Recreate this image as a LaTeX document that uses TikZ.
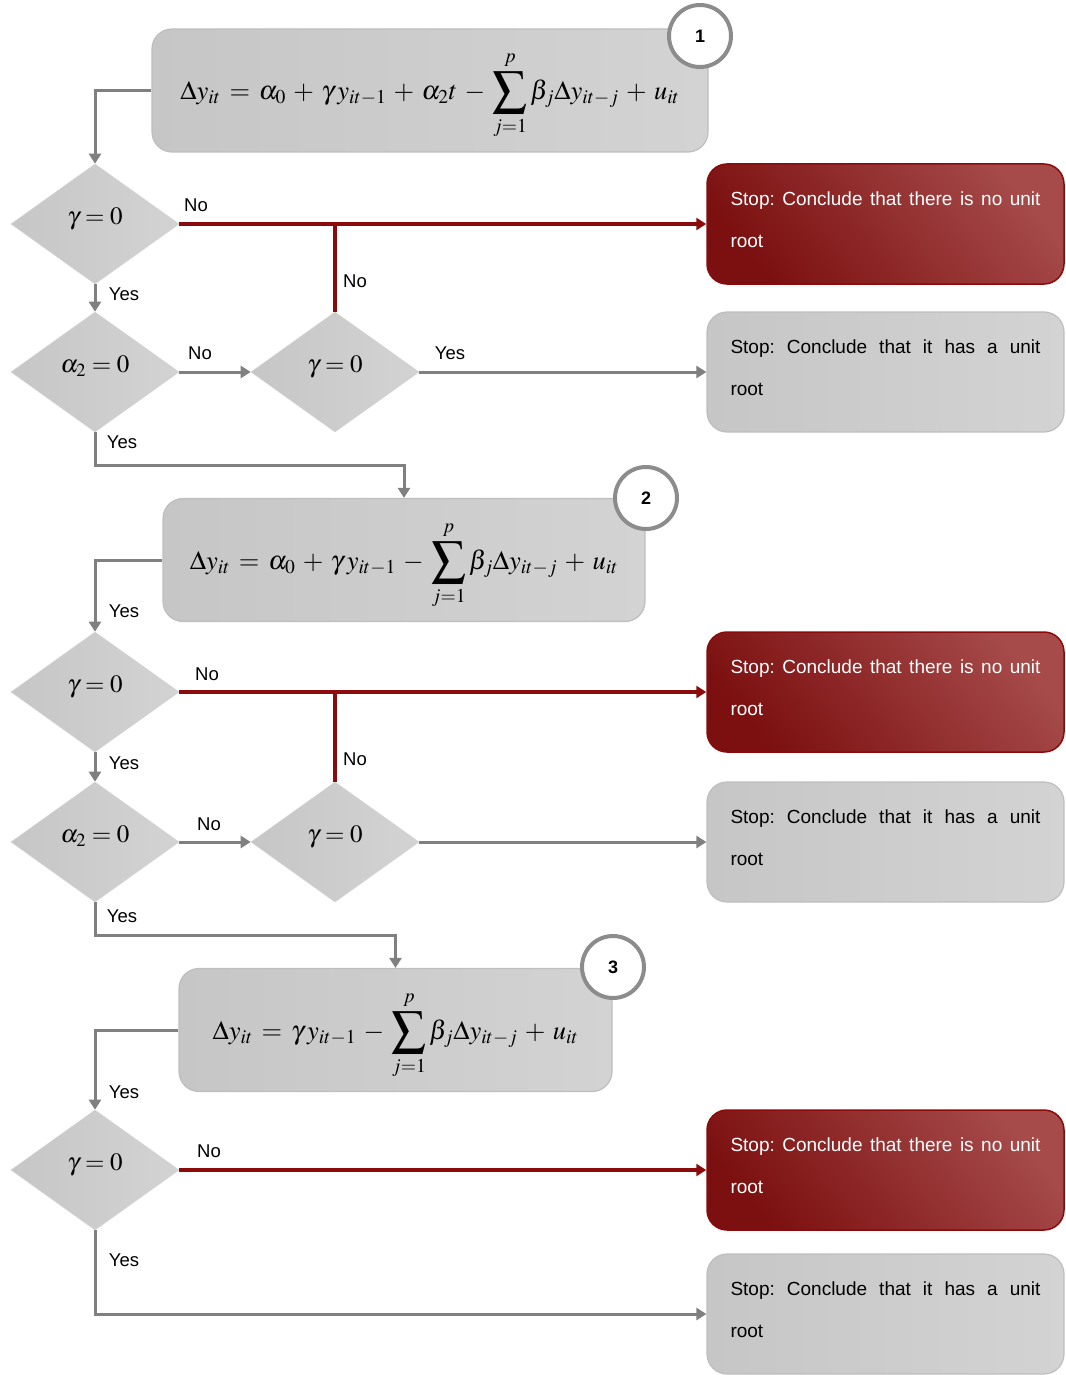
\documentclass[tikz,border=0pt]{standalone}
\usepackage{mathptmx}
\usepackage{graphicx}
\usepackage[no-math]{fontspec}
\setmainfont{Liberation Sans}
\usetikzlibrary{shapes.geometric,arrows.meta,calc}
\definecolor{linegray}{HTML}{808080}
\definecolor{myred}{HTML}{8B0A0A}
\definecolor{redA}{HTML}{7C1010}
\definecolor{redB}{HTML}{A64A4A}
\definecolor{grayA}{HTML}{C6C6C6}
\definecolor{grayB}{HTML}{D3D3D3}
\definecolor{boxedge}{HTML}{BEBEBE}
\definecolor{circedge}{HTML}{8C8C8C}
\newcommand\bsum{\mathop{\vcenter{\hbox{\scalebox{1.85}{$\sum$}}}}\limits_{\raisebox{-3pt}{$\scriptstyle j=1$}}^{\raisebox{4pt}{$\scriptstyle p$}}}
\newcommand\eqsp{\medmuskip=5mu\relax\thickmuskip=6mu\relax}
\newcommand\jline[1]{\makebox[310pt][s]{\spaceskip=0.278em plus 1fil\relax\xspaceskip=0.278em plus 1fil\relax #1}}
\newcommand\lastl[1]{#1\rule[-8pt]{0pt}{1pt}}
\newcommand\dtext[1]{$#1$\rule[-15pt]{0pt}{1pt}}
\begin{document}
\begin{tikzpicture}[x=1pt,y=-1pt,
  eqbox/.style={rectangle, rounded corners=20pt, draw=boxedge, line width=1.2pt,
    left color=grayA, right color=grayB, minimum height=123pt},
  eqtext/.style={inner sep=0pt, font=\fontsize{26.5}{32}\selectfont},
  dia/.style={diamond, minimum width=168pt, minimum height=120pt, inner sep=0pt,
    draw=grayB, line width=0.6pt, left color=grayA, right color=grayB,
    font=\fontsize{25}{30}\selectfont},
  redbox/.style={rectangle, rounded corners=20pt, draw=myred, line width=1.5pt,
    top color=redB, bottom color=redA, shading angle=-50, minimum width=357pt, minimum height=120pt,
    text width=310pt, align=left, text=white, font=\fontsize{19}{42}\selectfont},
  graybox/.style={rectangle, rounded corners=20pt, draw=boxedge, line width=1.2pt,
    left color=grayA, right color=grayB, minimum width=357pt, minimum height=120pt,
    text width=310pt, align=left, text=black, font=\fontsize{19}{42}\selectfont},
  numcirc/.style={circle, draw=circedge, line width=4pt, fill=white,
    minimum size=62pt, inner sep=0pt, font=\fontsize{18}{20}\selectfont\bfseries},
  lbl/.style={inner sep=0pt, font=\fontsize{18.5}{20}\selectfont},
  garr/.style={draw=linegray, line width=3pt, -{Triangle[length=10pt,width=12pt]}},
  gline/.style={draw=linegray, line width=3pt},
  rarr/.style={draw=myred, line width=4pt, -{Triangle[length=10pt,width=12pt]}},
  rline/.style={draw=myred, line width=4pt}
]
\useasboundingbox (0,0) rectangle (1065,1375);
\clip (0,0) rectangle (1065,1375);

% ---------- stage 1 ----------
\node[eqbox, minimum width=556pt] (b1) at (430,90.5) {};
\node[eqtext] (f1) at ([yshift=-5pt]b1.center)
  {$\eqsp\displaystyle \Delta y_{it} = \alpha_0 + \gamma\, y_{it-1} + \alpha_2 t - \bsum \beta_j \Delta y_{it-j} + u_{it}$};
\node[numcirc] (c1) at (700,36) {1};

\node[dia] (d1) at (95,224) {\dtext{\gamma = 0}};
\node[dia] (d2) at (95,372) {\dtext{\alpha_2 = 0}};
\node[dia] (d3) at (335,372) {\dtext{\gamma = 0}};

\node[redbox] (r1) at (885.5,224) {\jline{Stop: Conclude that there is no unit}\\\lastl{root}};
\node[graybox] (g1) at (885.5,372) {\jline{Stop: Conclude that it has a unit}\\\lastl{root}};

\draw[garr] (b1.west) -| (d1.north);
\draw[rarr] (d1.east) -- (r1.west);
\draw[rline] (d3.north) -- (d3.north |- d1.east);
\draw[garr] (d1.south) -- (d2.north);
\draw[garr] (d2.east) -- (d3.west);
\draw[garr] (d3.east) -- (g1.west);

\node[lbl] (l1) at (196,205) {No};
\node[lbl] (l2) at (355,281) {No};
\node[lbl] (l3) at (124,294) {Yes};
\node[lbl] (l4) at (200,353) {No};
\node[lbl] (l5) at (450,353) {Yes};
\node[lbl] (l6) at (122,442) {Yes};

% ---------- stage 2 ----------
\node[eqbox, minimum width=482pt] (b2) at (404,560) {};
\node[eqtext] (f2) at ([yshift=-5pt]b2.center)
  {$\eqsp\displaystyle \Delta y_{it} = \alpha_0 + \gamma\, y_{it-1} - \bsum \beta_j \Delta y_{it-j} + u_{it}$};
\node[numcirc] (c2) at (646,498) {2};

\coordinate (k1) at (95,465);
\draw[garr] (d2.south) -- (k1) -| (b2.north);

\node[dia] (d4) at (95,692) {\dtext{\gamma = 0}};
\node[dia] (d5) at (95,842) {\dtext{\alpha_2 = 0}};
\node[dia] (d6) at (335,842) {\dtext{\gamma = 0}};

\node[redbox] (r2) at (885.5,692) {\jline{Stop: Conclude that there is no unit}\\\lastl{root}};
\node[graybox] (g2) at (885.5,842) {\jline{Stop: Conclude that it has a unit}\\\lastl{root}};

\draw[garr] (b2.west) -| (d4.north);
\draw[rarr] (d4.east) -- (r2.west);
\draw[rline] (d6.north) -- (d6.north |- d4.east);
\draw[garr] (d4.south) -- (d5.north);
\draw[garr] (d5.east) -- (d6.west);
\draw[garr] (d6.east) -- (g2.west);

\node[lbl] (l7) at (124,611) {Yes};
\node[lbl] (l8) at (207,674) {No};
\node[lbl] (l9) at (124,763) {Yes};
\node[lbl] (l10) at (355,759) {No};
\node[lbl] (l11) at (209,824) {No};
\node[lbl] (l12) at (122,916) {Yes};

% ---------- stage 3 ----------
\node[eqbox, minimum width=433pt] (b3) at (395.5,1030) {};
\node[eqtext] (f3) at ([yshift=-5pt]b3.center)
  {$\eqsp\displaystyle \Delta y_{it} = \gamma\, y_{it-1} - \bsum \beta_j \Delta y_{it-j} + u_{it}$};
\node[numcirc] (c3) at (613,967) {3};

\coordinate (k2) at (95,935);
\draw[garr] (d5.south) -- (k2) -| (b3.north);

\node[dia] (d7) at (95,1170) {\dtext{\gamma = 0}};
\node[redbox] (r3) at (885.5,1170) {\jline{Stop: Conclude that there is no unit}\\\lastl{root}};
\node[graybox] (g3) at (885.5,1314) {\jline{Stop: Conclude that it has a unit}\\\lastl{root}};

\draw[garr] (b3.west) -| (d7.north);
\draw[rarr] (d7.east) -- (r3.west);
\draw[garr] (d7.south) |- (g3.west);

\node[lbl] (l13) at (124,1092) {Yes};
\node[lbl] (l14) at (209,1151) {No};
\node[lbl] (l15) at (124,1260) {Yes};
\end{tikzpicture}
\end{document}
